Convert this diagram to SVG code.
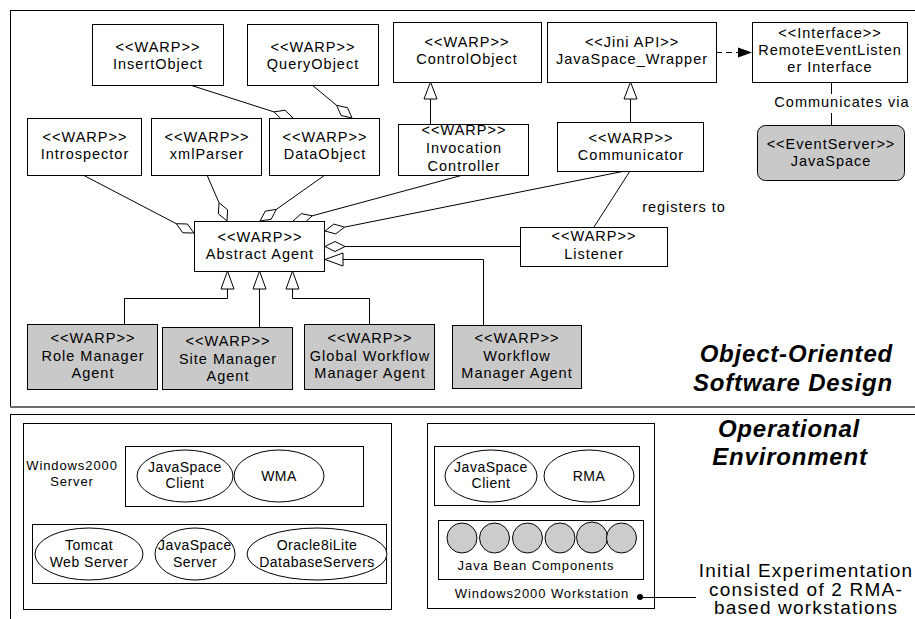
<svg xmlns="http://www.w3.org/2000/svg" width="915" height="619" viewBox="0 0 915 619">
  <style>
    .box { fill: #ffffff; stroke: #000000; stroke-width: 1; }
    .agent { fill: #c9c9c9; stroke: #000000; stroke-width: 1; }
    .ln { fill: none; stroke: #000000; stroke-width: 1; }
    .hollow { fill: #ffffff; stroke: #000000; stroke-width: 1; }
    .bean { fill: #cccccc; stroke: #000000; stroke-width: 1; }
    .t { font-family: "Liberation Sans", Arial, Helvetica, sans-serif; font-size: 14.5px; letter-spacing: 1px; text-anchor: middle; fill: #000000; }
    .e { font-family: "Liberation Sans", Arial, Helvetica, sans-serif; font-size: 14px; letter-spacing: 0.5px; text-anchor: middle; fill: #000000; }
    .sm { font-family: "Liberation Sans", Arial, Helvetica, sans-serif; font-size: 13px; letter-spacing: 0.9px; text-anchor: middle; fill: #000000; }
    .title { font-family: "Liberation Sans", Arial, Helvetica, sans-serif; font-size: 24px; font-weight: bold; font-style: italic; letter-spacing: 0.8px; fill: #000000; }
    .note { font-family: "Liberation Sans", Arial, Helvetica, sans-serif; font-size: 19px; letter-spacing: 1.2px; text-anchor: middle; fill: #000000; }
  </style>

  <rect width="915" height="619" fill="#ffffff"/>

  <!-- frames -->
  <g id="frames">
    <rect x="10.5" y="10.5" width="920" height="397" fill="none" stroke="#000" stroke-width="1"/>
    <line x1="10" y1="407" x2="915" y2="407" stroke="#6e6e6e" stroke-width="2"/>
    <rect x="10.5" y="414.5" width="920" height="220" fill="none" stroke="#000" stroke-width="1"/>
  </g>

  <!-- connectors -->
  <g id="connectors">
    <!-- aggregations into DataObject -->
    <line class="ln" x1="190" y1="85" x2="274" y2="111.9"/>
    <polygon class="hollow" points="293,118 282,119.8 274,111.9 285,110.2"/>
    <line class="ln" x1="312" y1="85" x2="336.6" y2="105.3"/>
    <polygon class="hollow" points="352,118 341.1,115.5 336.6,105.3 347.5,107.7"/>

    <!-- aggregations into Abstract Agent -->
    <line class="ln" x1="83" y1="175" x2="176.3" y2="223.7"/>
    <polygon class="hollow" points="194,233 182.8,232.8 176.3,223.7 187.4,224"/>
    <line class="ln" x1="207" y1="175" x2="219" y2="202.7"/>
    <polygon class="hollow" points="227,221 218.4,213.8 219,202.7 227.6,209.8"/>
    <line class="ln" x1="325" y1="175" x2="276.3" y2="209.4"/>
    <polygon class="hollow" points="260,221 265.3,211.1 276.3,209.4 271.1,219.3"/>
    <line class="ln" x1="463" y1="175" x2="312.3" y2="215.8"/>
    <polygon class="hollow" points="293,221 301.3,213.6 312.3,215.8 304,223.2"/>
    <line class="ln" x1="625" y1="171" x2="344.6" y2="227.1"/>
    <polygon class="hollow" points="325,231 333.8,224.1 344.6,227.1 335.8,233.9"/>
    <line class="ln" x1="345" y1="246.5" x2="520" y2="246.5"/>
    <polygon class="hollow" points="325,246.5 335,241.5 345,246.5 335,251.5"/>

    <!-- generalizations -->
    <line class="ln" x1="430.5" y1="99" x2="430.5" y2="124"/>
    <polygon class="hollow" points="430.5,82 424,99 437,99"/>
    <line class="ln" x1="630.5" y1="99" x2="630.5" y2="122"/>
    <polygon class="hollow" points="630.5,82 624,99 637,99"/>
    <polyline class="ln" points="343,259.5 483.5,259.5 483.5,325"/>
    <polygon class="hollow" points="325,259.5 343,253 343,266"/>
    <polyline class="ln" points="124.5,324 124.5,298.5 227.5,298.5 227.5,289"/>
    <polygon class="hollow" points="227.5,271 221,289 234,289"/>
    <line class="ln" x1="259.5" y1="289" x2="259.5" y2="327"/>
    <polygon class="hollow" points="259.5,271 253,289 266,289"/>
    <polyline class="ln" points="369.5,324 369.5,298.5 292.5,298.5 292.5,289"/>
    <polygon class="hollow" points="292.5,271 286,289 299,289"/>

    <!-- dependency to the listener interface -->
    <line class="ln" x1="716" y1="52.5" x2="740" y2="52.5" stroke-dasharray="6 4"/>
    <polygon points="752,52.5 738,47.5 738,57.5" fill="#000"/>

    <!-- communicates via -->
    <line class="ln" x1="831.5" y1="82" x2="831.5" y2="94"/>
    <line class="ln" x1="831.5" y1="113" x2="831.5" y2="125"/>
    <text class="t" x="842" y="107">Communicates via</text>

    <!-- registers to -->
    <line class="ln" x1="630" y1="171" x2="594" y2="227"/>
    <text class="t" x="684" y="212">registers to</text>
  </g>

  <!-- class nodes -->
  <g id="insertObject">
    <rect class="box" x="92.5" y="24.5" width="131" height="61"/>
    <text class="t" x="158" y="52">&lt;&lt;WARP&gt;&gt;</text>
    <text class="t" x="158" y="69">InsertObject</text>
  </g>
  <g id="queryObject">
    <rect class="box" x="247.5" y="24.5" width="131" height="61"/>
    <text class="t" x="313" y="52">&lt;&lt;WARP&gt;&gt;</text>
    <text class="t" x="313" y="69">QueryObject</text>
  </g>
  <g id="controlObject">
    <rect class="box" x="393.5" y="22.5" width="148" height="60"/>
    <text class="t" x="467" y="47">&lt;&lt;WARP&gt;&gt;</text>
    <text class="t" x="467" y="64">ControlObject</text>
  </g>
  <g id="javaSpaceWrapper">
    <rect class="box" x="547.5" y="22.5" width="169" height="60"/>
    <text class="t" x="632" y="47">&lt;&lt;Jini API&gt;&gt;</text>
    <text class="t" x="632" y="64">JavaSpace_Wrapper</text>
  </g>
  <g id="remoteEventListener">
    <rect class="box" x="752.5" y="22.5" width="155" height="60"/>
    <text class="t" x="830" y="38">&lt;&lt;Interface&gt;&gt;</text>
    <text class="t" x="830" y="55">RemoteEventListen</text>
    <text class="t" x="830" y="72">er Interface</text>
  </g>
  <g id="introspector">
    <rect class="box" x="27.5" y="118.5" width="114" height="57"/>
    <text class="t" x="85" y="142">&lt;&lt;WARP&gt;&gt;</text>
    <text class="t" x="85" y="159">Introspector</text>
  </g>
  <g id="xmlParser">
    <rect class="box" x="151.5" y="118.5" width="110" height="57"/>
    <text class="t" x="207" y="142">&lt;&lt;WARP&gt;&gt;</text>
    <text class="t" x="207" y="159">xmlParser</text>
  </g>
  <g id="dataObject">
    <rect class="box" x="269.5" y="118.5" width="110" height="57"/>
    <text class="t" x="325" y="142">&lt;&lt;WARP&gt;&gt;</text>
    <text class="t" x="325" y="159">DataObject</text>
  </g>
  <g id="invocationController">
    <rect class="box" x="398.5" y="124.5" width="130" height="51"/>
    <text class="t" x="464" y="135">&lt;&lt;WARP&gt;&gt;</text>
    <text class="t" x="464" y="153">Invocation</text>
    <text class="t" x="464" y="171">Controller</text>
  </g>
  <g id="communicator">
    <rect class="box" x="557.5" y="122.5" width="146" height="49"/>
    <text class="t" x="631" y="143">&lt;&lt;WARP&gt;&gt;</text>
    <text class="t" x="631" y="160">Communicator</text>
  </g>
  <g id="javaSpace">
    <rect class="agent" x="757.5" y="125.5" width="147" height="55" rx="8" ry="8"/>
    <text class="t" x="831" y="149">&lt;&lt;EventServer&gt;&gt;</text>
    <text class="t" x="831" y="166">JavaSpace</text>
  </g>
  <g id="abstractAgent">
    <rect class="box" x="194.5" y="221.5" width="130" height="50"/>
    <text class="t" x="260" y="242">&lt;&lt;WARP&gt;&gt;</text>
    <text class="t" x="260" y="259">Abstract Agent</text>
  </g>
  <g id="listener">
    <rect class="box" x="520.5" y="227.5" width="147" height="39"/>
    <text class="t" x="594" y="241">&lt;&lt;WARP&gt;&gt;</text>
    <text class="t" x="594" y="259">Listener</text>
  </g>
  <g id="roleManagerAgent">
    <rect class="agent" x="27.5" y="324.5" width="130" height="65"/>
    <text class="t" x="93" y="343">&lt;&lt;WARP&gt;&gt;</text>
    <text class="t" x="93" y="361">Role Manager</text>
    <text class="t" x="93" y="378">Agent</text>
  </g>
  <g id="siteManagerAgent">
    <rect class="agent" x="162.5" y="327.5" width="130" height="62"/>
    <text class="t" x="228" y="346">&lt;&lt;WARP&gt;&gt;</text>
    <text class="t" x="228" y="364">Site Manager</text>
    <text class="t" x="228" y="381">Agent</text>
  </g>
  <g id="globalWorkflowManagerAgent">
    <rect class="agent" x="304.5" y="324.5" width="130" height="65"/>
    <text class="t" x="370" y="343">&lt;&lt;WARP&gt;&gt;</text>
    <text class="t" x="370" y="361">Global Workflow</text>
    <text class="t" x="370" y="378">Manager Agent</text>
  </g>
  <g id="workflowManagerAgent">
    <rect class="agent" x="452.5" y="325.5" width="129" height="63"/>
    <text class="t" x="517" y="343">&lt;&lt;WARP&gt;&gt;</text>
    <text class="t" x="517" y="361">Workflow</text>
    <text class="t" x="517" y="378">Manager Agent</text>
  </g>

  <text class="title" x="893" y="362" text-anchor="end">Object-Oriented</text>
  <text class="title" x="893" y="391" text-anchor="end">Software Design</text>

  <!-- operational environment: server -->
  <g id="server">
    <rect class="box" x="23.5" y="423.5" width="368" height="186"/>
    <text class="sm" x="72" y="470">Windows2000</text>
    <text class="sm" x="72" y="486">Server</text>
    <rect class="box" x="125.5" y="446.5" width="238" height="60"/>
    <ellipse class="box" cx="185" cy="476" rx="48" ry="26"/>
    <text class="e" x="185" y="472">JavaSpace</text>
    <text class="e" x="185" y="488">Client</text>
    <ellipse class="box" cx="279" cy="476" rx="45" ry="26"/>
    <text class="e" x="279" y="481">WMA</text>
    <rect class="box" x="32.5" y="524.5" width="354" height="59"/>
    <ellipse class="box" cx="89" cy="554" rx="54" ry="26"/>
    <text class="e" x="89" y="550">Tomcat</text>
    <text class="e" x="89" y="567">Web Server</text>
    <ellipse class="box" cx="195" cy="554" rx="40" ry="26"/>
    <text class="e" x="195" y="550">JavaSpace</text>
    <text class="e" x="195" y="567">Server</text>
    <ellipse class="box" cx="317" cy="554" rx="70" ry="26"/>
    <text class="e" x="317" y="550">Oracle8iLite</text>
    <text class="e" x="317" y="567">DatabaseServers</text>
  </g>

  <!-- operational environment: workstation -->
  <g id="workstation">
    <rect class="box" x="427.5" y="423.5" width="227" height="185"/>
    <rect class="box" x="434.5" y="446.5" width="205" height="59"/>
    <ellipse class="box" cx="491" cy="476" rx="46" ry="26"/>
    <text class="e" x="491" y="472">JavaSpace</text>
    <text class="e" x="491" y="488">Client</text>
    <ellipse class="box" cx="589" cy="476" rx="45" ry="26"/>
    <text class="e" x="589" y="481">RMA</text>
    <rect class="box" x="438.5" y="520.5" width="205" height="59"/>
    <circle class="bean" cx="462" cy="538" r="15"/>
    <circle class="bean" cx="494.5" cy="538" r="15"/>
    <circle class="bean" cx="527.5" cy="538" r="15"/>
    <circle class="bean" cx="560" cy="538" r="15"/>
    <circle class="bean" cx="592" cy="537.5" r="15.5"/>
    <circle class="bean" cx="621.5" cy="538" r="15"/>
    <text class="sm" x="536" y="570">Java Bean Components</text>
    <text class="sm" x="542" y="598">Windows2000 Workstation</text>
  </g>

  <g id="note">
    <circle cx="640" cy="597" r="3" fill="#000"/>
    <line class="ln" x1="640" y1="597.5" x2="696" y2="597.5"/>
    <text class="note" x="806" y="577">Initial Experimentation</text>
    <text class="note" x="806" y="596">consisted of 2 RMA-</text>
    <text class="note" x="806" y="614">based workstations</text>
  </g>

  <text class="title" x="789" y="437" text-anchor="middle">Operational</text>
  <text class="title" x="790" y="465" text-anchor="middle">Environment</text>
</svg>
